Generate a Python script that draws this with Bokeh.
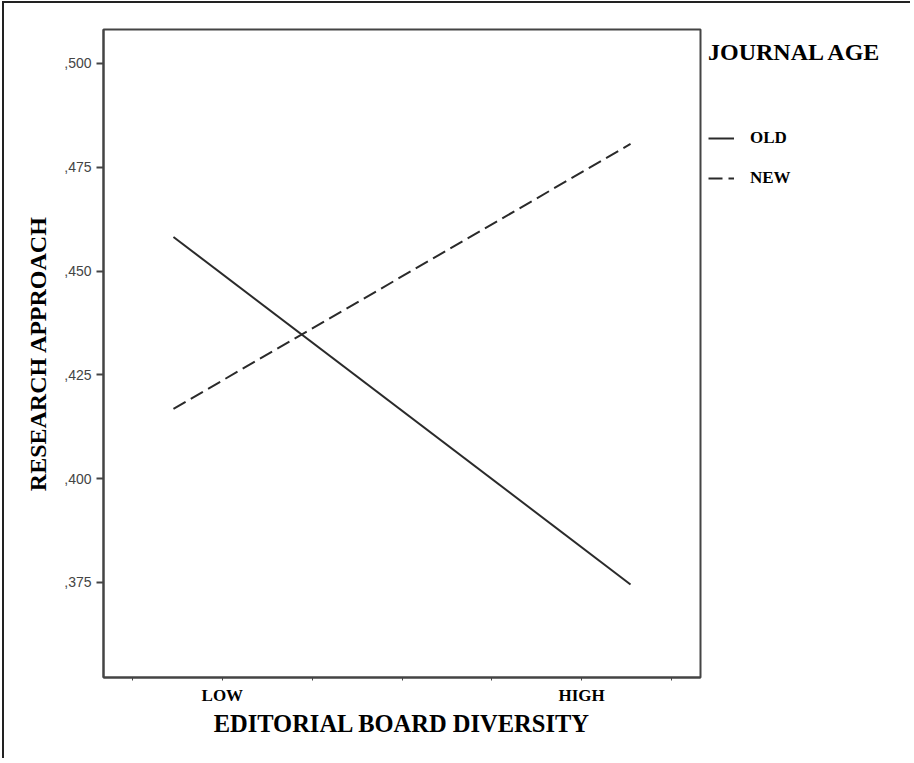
from bokeh.plotting import figure
from bokeh.models import FixedTicker, Legend, LegendItem, Range1d
from bokeh.layouts import row
from bokeh.embed import file_html
from bokeh.resources import INLINE

# ---- data ----
diversity_x = [1.456, 6.544]          # positions of the LOW..HIGH line ends on the x scale
old_y = [0.4582, 0.3745]              # OLD journals
new_y = [0.4168, 0.4806]              # NEW journals
x_ticks = [1, 2, 3, 4, 5, 6, 7]
x_tick_labels = {2: "LOW", 6: "HIGH"}
y_ticks = [0.375, 0.400, 0.425, 0.450, 0.475, 0.500]
y_tick_labels = [",375", ",400", ",425", ",450", ",475", ",500"]
series_names = ["OLD", "NEW"]
legend_title = "JOURNAL AGE"

SERIF = "Liberation Serif"
SANS = "Liberation Sans"
INK = "#2a2a2a"
DASH = "14 6"

p = figure(width=700, height=755, output_backend="svg", toolbar_location=None,
           x_range=Range1d(0.6772, 7.3228), y_range=Range1d(0.35208, 0.50818),
           min_border_left=99, min_border_right=4, min_border_top=26, min_border_bottom=81)
p.xgrid.visible = False
p.ygrid.visible = False
p.outline_line_color = "#444444"
p.outline_line_width = 2
p.background_fill_color = "white"
p.border_fill_color = "white"

p.line(diversity_x, old_y, line_color=INK, line_width=2)
p.line(diversity_x, new_y, line_color=INK, line_width=2, line_dash=DASH)

# x axis
xa = p.xaxis[0]
xa.ticker = FixedTicker(ticks=x_ticks)
xa.major_label_overrides = {t: x_tick_labels.get(t, "") for t in x_ticks}
xa.minor_tick_line_color = None
xa.major_tick_in = 0
xa.major_tick_out = 3
xa.major_tick_line_color = "#444444"
xa.axis_line_color = "#444444"
xa.axis_line_width = 2
xa.major_label_standoff = 5
xa.major_label_text_font = SERIF
xa.major_label_text_font_style = "bold"
xa.major_label_text_font_size = "17px"
xa.major_label_text_color = "black"
xa.axis_label = "EDITORIAL BOARD DIVERSITY"
xa.axis_label_text_font = SERIF
xa.axis_label_text_font_style = "bold"
xa.axis_label_text_font_size = "24.5px"
xa.axis_label_text_color = "black"
xa.axis_label_standoff = 2

# y axis
ya = p.yaxis[0]
ya.ticker = FixedTicker(ticks=y_ticks)
ya.major_label_overrides = dict(zip(y_ticks, y_tick_labels))
ya.minor_tick_line_color = None
ya.major_tick_in = 0
ya.major_tick_out = 7
ya.major_tick_line_color = "#444444"
ya.major_tick_line_width = 2
ya.axis_line_color = "#444444"
ya.axis_line_width = 2
ya.major_label_standoff = 5
ya.major_label_text_font = SANS
ya.major_label_text_font_size = "14px"
ya.major_label_text_color = "#444444"
ya.axis_label = "RESEARCH APPROACH"
ya.axis_label_text_font = SERIF
ya.axis_label_text_font_style = "bold"
ya.axis_label_text_font_size = "24px"
ya.axis_label_text_color = "black"
ya.axis_label_standoff = 10

# legend panel (separate canvas to the right of the plot); its ranges keep the
# key renderers off-screen so only the legend is seen. Its frame is aligned
# with the main frame by the row layout.
q = figure(width=206, height=755, output_backend="svg", toolbar_location=None,
           x_range=Range1d(100, 101), y_range=Range1d(100, 101),
           min_border_left=0, min_border_right=0, min_border_top=26, min_border_bottom=81,
           x_axis_location=None, y_axis_location=None)
q.xgrid.visible = False
q.ygrid.visible = False
q.outline_line_color = None
q.background_fill_color = "white"
q.border_fill_color = "white"
k_old = q.line(diversity_x, old_y, line_color=INK, line_width=2)
k_new = q.line(diversity_x, new_y, line_color=INK, line_width=2, line_dash=DASH)

legend = Legend(items=[LegendItem(label=series_names[0], renderers=[k_old]),
                       LegendItem(label=series_names[1], renderers=[k_new])],
                title=legend_title, location=(4, 489),
                padding=0, margin=0, spacing=20, title_standoff=62,
                glyph_width=26, glyph_height=20, label_height=20, label_standoff=16,
                border_line_color=None, background_fill_alpha=0)
legend.title_text_font = SERIF
legend.title_text_font_style = "bold"
legend.title_text_font_size = "24px"
legend.title_text_color = "black"
legend.label_text_font = SERIF
legend.label_text_font_style = "bold"
legend.label_text_font_size = "17px"
legend.label_text_color = "black"
q.add_layout(legend, "center")

layout = row(p, q)
layout.styles = {"margin-left": "2px", "margin-top": "1px",
                 "border-left": "2px solid #222", "border-top": "2px solid #222"}

open("out.html", "w").write(file_html(layout, INLINE))
